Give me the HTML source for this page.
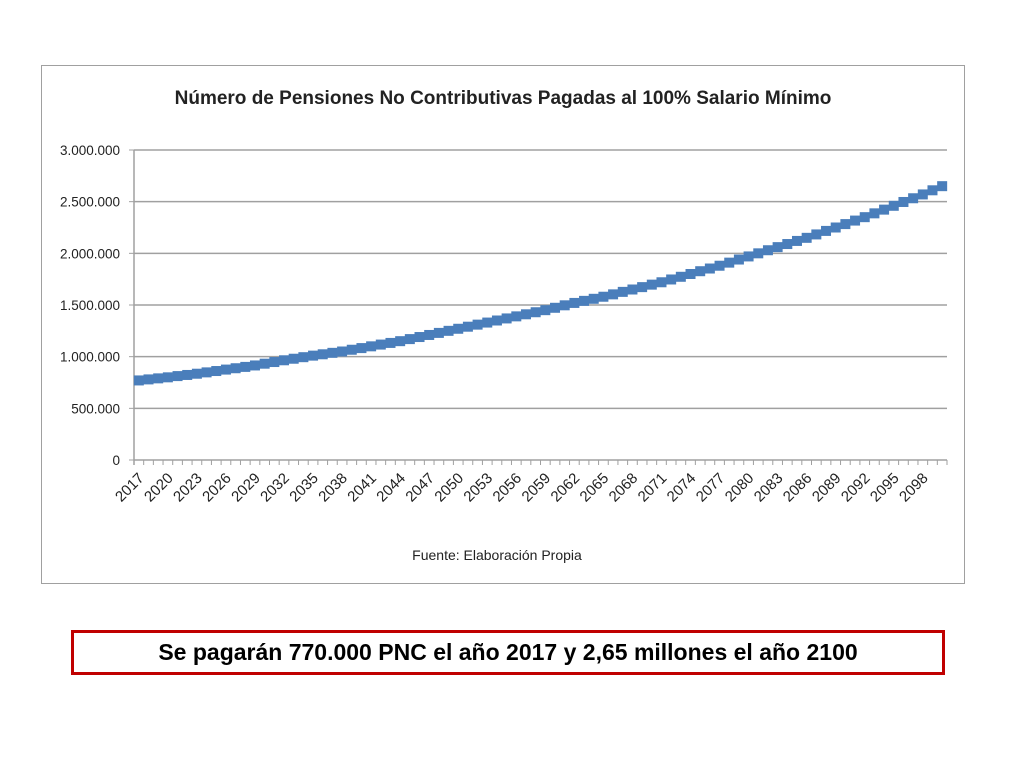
<!DOCTYPE html>
<html><head><meta charset="utf-8"><style>
body{margin:0;width:1024px;height:768px;background:#fff;font-family:"Liberation Sans",sans-serif;position:relative;overflow:hidden}
#frame{position:absolute;left:41px;top:65px;width:924px;height:519px;border:1.5px solid #a0a0a0;box-sizing:border-box}
#note{position:absolute;left:71px;top:630px;width:874px;height:45px;border:3px solid #c00000;box-sizing:border-box;text-align:center;font-weight:bold;font-size:23px;line-height:39px;color:#000}
</style></head><body>
<div id="frame"></div>
<svg id="chart" width="1024" height="768" style="position:absolute;left:0;top:0" font-family="Liberation Sans, sans-serif"></svg>
<div id="note">Se pagarán 770.000 PNC el año 2017 y 2,65 millones el año 2100</div>
<script>
const years=[];for(let y=2017;y<=2100;y++)years.push(y);
const values=[770000,780000,790000,800000,812000,823000,835000,848000,861000,875000,888000,901000,915000,932000,948000,965000,980000,995000,1010000,1023000,1037000,1050000,1067000,1083000,1100000,1117000,1133000,1150000,1170000,1190000,1210000,1230000,1250000,1270000,1290000,1310000,1330000,1350000,1370000,1390000,1410000,1430000,1450000,1473000,1497000,1520000,1540000,1560000,1580000,1603000,1627000,1650000,1673000,1697000,1720000,1747000,1773000,1800000,1827000,1853000,1880000,1910000,1940000,1970000,2000000,2030000,2060000,2090000,2120000,2150000,2183000,2217000,2250000,2283000,2317000,2350000,2387000,2423000,2460000,2497000,2533000,2570000,2610000,2650000];
const yTicks=[0,500000,1000000,1500000,2000000,2500000,3000000];
const yTickLabels=["0","500.000","1.000.000","1.500.000","2.000.000","2.500.000","3.000.000"];
const svg=document.getElementById('chart');const NS='http://www.w3.org/2000/svg';
const L=134,R=947,T=150,B=460,yMax=3000000;
const bw=(R-L)/years.length;
const xs=i=>L+bw*(i+0.5);const ys=v=>B-(v/yMax)*(B-T);
function mk(t,a,txt){const e=document.createElementNS(NS,t);for(const k in a)e.setAttribute(k,a[k]);if(txt!==undefined)e.textContent=txt;svg.appendChild(e);return e;}
let e=mk('text',{x:503,y:104,'text-anchor':'middle','font-size':19,'font-weight':'bold',fill:'#222'},'Número de Pensiones No Contributivas Pagadas al 100% Salario Mínimo');

yTicks.forEach((v,i)=>{
 if(v>0){const g=mk('line',{x1:L,x2:R,y1:ys(v),y2:ys(v),stroke:'#a0a0a0','stroke-width':1.5});
 }
 mk('line',{x1:L-5,x2:L,y1:ys(v),y2:ys(v),stroke:'#a0a0a0'});
 const t=mk('text',{x:L-14,y:ys(v)+5,'text-anchor':'end','font-size':13.5,fill:'#222'},yTickLabels[i]);
 
});
e=mk('line',{x1:L,x2:L,y1:T,y2:B+5,stroke:'#a0a0a0','stroke-width':1.5});
e=mk('line',{x1:L,x2:R,y1:B,y2:B,stroke:'#a0a0a0','stroke-width':1.5});
for(let i=0;i<=years.length;i++)mk('line',{x1:L+bw*i,x2:L+bw*i,y1:B,y2:B+5,stroke:'#a0a0a0'});
years.forEach((y,i)=>{if(i%3===0){const x=xs(i)+6,yy=B+19;
 const t=mk('text',{x:x,y:yy,'text-anchor':'end','font-size':15,fill:'#222',transform:`rotate(-45 ${x} ${yy})`},String(y));
 }});
e=mk('polyline',{points:values.map((v,i)=>xs(i)+','+ys(v)).join(' '),fill:'none',stroke:'#4a7ebb','stroke-width':3});

values.forEach((v,i)=>{const r=mk('rect',{x:xs(i)-5,y:ys(v)-5,width:10,height:10,fill:'#4a7ebb'});
 });
e=mk('text',{x:497,y:560,'text-anchor':'middle','font-size':14,fill:'#222'},'Fuente: Elaboración Propia');

</script>
</body></html>
